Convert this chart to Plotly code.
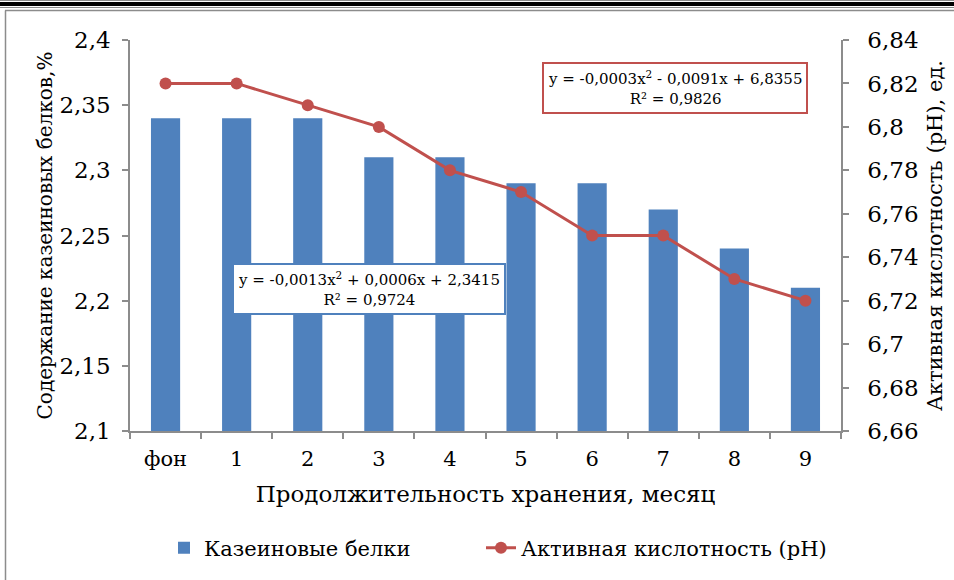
import plotly.graph_objects as go

categories = ["фон", "1", "2", "3", "4", "5", "6", "7", "8", "9"]
casein = [2.34, 2.34, 2.34, 2.31, 2.31, 2.29, 2.29, 2.27, 2.24, 2.21]
ph = [6.82, 6.82, 6.81, 6.80, 6.78, 6.77, 6.75, 6.75, 6.73, 6.72]

y1_ticks = [2.1, 2.15, 2.2, 2.25, 2.3, 2.35, 2.4]
y1_labels = ["2,1", "2,15", "2,2", "2,25", "2,3", "2,35", "2,4"]
y2_ticks = [6.66, 6.68, 6.70, 6.72, 6.74, 6.76, 6.78, 6.80, 6.82, 6.84]
y2_labels = ["6,66", "6,68", "6,7", "6,72", "6,74", "6,76", "6,78", "6,8", "6,82", "6,84"]

W, H = 954, 580
L, R, T, B = 130, 841, 40, 431

def px(x):
    return (x - L) / (R - L)

def py(y):
    return (B - y) / (B - T)

FONT = "DejaVu Serif"
BLUE = "#4F81BD"
RED = "#C0504D"
GRAY = "#8C8C8C"

fig = go.Figure()
fig.add_trace(go.Bar(
    x=categories, y=casein, name="Казеиновые белки",
    marker=dict(color=BLUE, line=dict(width=0)), width=0.41, yaxis="y",
    legend="legend",
))
fig.add_trace(go.Scatter(
    x=categories, y=ph, name="Активная кислотность (pH)", mode="lines+markers",
    line=dict(color=RED, width=3), marker=dict(color=RED, size=12), yaxis="y2",
    legend="legend2",
))

axis_common = dict(showgrid=False, zeroline=False, showline=True, linecolor=GRAY,
                   linewidth=1.5, ticks="outside", tickcolor=GRAY, ticklen=6, tickwidth=1.5,
                   automargin=False)

legend_common = dict(orientation="h", xanchor="left", y=py(548), yanchor="middle",
                     font=dict(family=FONT, size=21), itemwidth=30, bgcolor="rgba(0,0,0,0)")

fig.update_layout(
    width=W, height=H,
    margin=dict(l=L, r=W - R, t=T, b=H - B, autoexpand=False),
    paper_bgcolor="white", plot_bgcolor="white",
    font=dict(family=FONT, size=20, color="black"),
    xaxis=dict(**axis_common, type="category", tickson="boundaries", range=[-0.5, 9.5],
               tickfont=dict(family=FONT, size=21), ticklabelstandoff=8,
               title=dict(text="Продолжительность хранения, месяц", standoff=16,
                          font=dict(family=FONT, size=23))),
    yaxis=dict(**axis_common, range=[2.1, 2.4], tickvals=y1_ticks, ticktext=y1_labels,
               tickfont=dict(family=FONT, size=23), ticklabelstandoff=7,
               title=dict(text="Содержание казеиновых белков,%", standoff=1,
                          font=dict(family=FONT, size=20))),
    yaxis2=dict(**axis_common, range=[6.66, 6.84], tickvals=y2_ticks, ticktext=y2_labels,
                overlaying="y", side="right",
                tickfont=dict(family=FONT, size=23), ticklabelstandoff=14,
                title=dict(text="Активная кислотность (pH), ед.", standoff=10,
                           font=dict(family=FONT, size=21))),
    legend=dict(**legend_common, x=px(164)),
    legend2=dict(**legend_common, x=px(481)),
    showlegend=True,
)

fig.add_annotation(
    xref="paper", yref="paper", x=px(674.5), y=py(88), xanchor="center", yanchor="middle",
    text="y = -0,0003x<sup>2</sup> - 0,0091x + 6,8355<br>R² = 0,9826",
    showarrow=False, align="center", font=dict(family=FONT, size=15, color="black"),
    bgcolor="white", bordercolor=RED, borderwidth=2, borderpad=4,
)
fig.add_annotation(
    xref="paper", yref="paper", x=px(369), y=py(289), xanchor="center", yanchor="middle",
    text="y = -0,0013x<sup>2</sup> + 0,0006x + 2,3415<br>R² = 0,9724",
    showarrow=False, align="center", font=dict(family=FONT, size=15, color="black"),
    bgcolor="white", bordercolor=BLUE, borderwidth=2, borderpad=4,
)

# page frame lines
fig.add_shape(type="line", xref="paper", yref="paper", x0=px(0), x1=px(W), y0=py(4), y1=py(4),
              line=dict(color="black", width=4))
fig.add_shape(type="line", xref="paper", yref="paper", x0=px(0), x1=px(W), y0=py(0.5), y1=py(0.5),
              line=dict(color=GRAY, width=1))
fig.add_shape(type="line", xref="paper", yref="paper", x0=px(0), x1=px(W), y0=py(7.5), y1=py(7.5),
              line=dict(color=GRAY, width=1))
fig.add_shape(type="line", xref="paper", yref="paper", x0=px(5), x1=px(W), y0=py(10.5), y1=py(10.5),
              line=dict(color=GRAY, width=1.5))
fig.add_shape(type="line", xref="paper", yref="paper", x0=px(5.5), x1=px(5.5), y0=py(10.5), y1=py(H),
              line=dict(color=GRAY, width=1.5))

fig.write_html("out.html", config={"displayModeBar": False},
               post_script="document.body.style.margin='0px';")
